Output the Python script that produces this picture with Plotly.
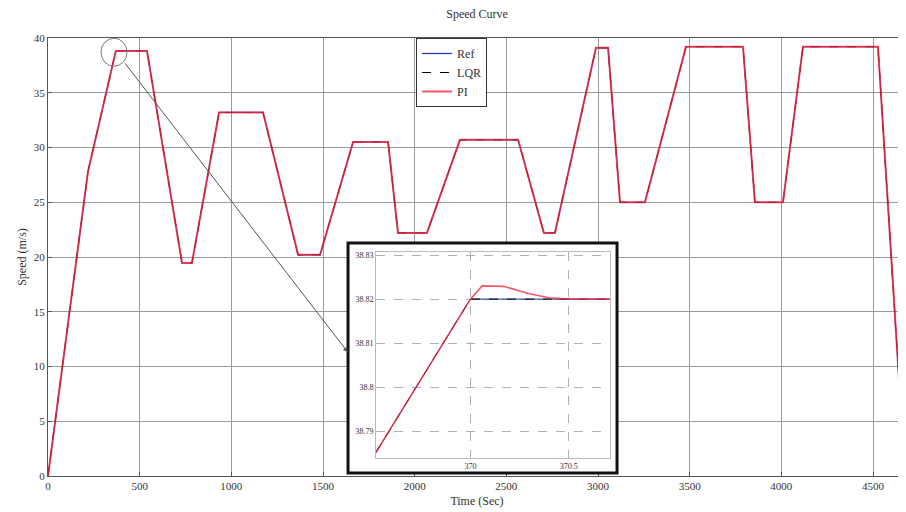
import plotly.graph_objects as go

# ---- data ----
ref_t = [0, 218, 370, 540, 731, 785, 933, 1173, 1364, 1484, 1664, 1855, 1909, 2067,
         2247, 2564, 2705, 2765, 2989, 3055, 3120, 3256, 3480, 3791, 3856, 4009,
         4118, 4527, 4675]
ref_v = [0, 27.8, 38.82, 38.82, 19.45, 19.45, 33.2, 33.2, 20.2, 20.2, 30.5, 30.5, 22.2, 22.2,
         30.7, 30.7, 22.2, 22.2, 39.1, 39.1, 25.0, 25.0, 39.2, 39.2, 25.0, 25.0,
         39.2, 39.2, 0]
lqr_t = ref_t
lqr_v = ref_v
pi_t = [0, 218, 370, 370.06, 370.17, 370.30, 370.40, 370.5, 540, 731, 785, 933, 1173, 1364,
        1484, 1664, 1855, 1909, 2067, 2247, 2564, 2705, 2765, 2989, 3055, 3120, 3256,
        3480, 3791, 3856, 4009, 4118, 4527, 4675]
pi_v = [0, 27.8, 38.82, 38.8230, 38.8229, 38.8212, 38.8203, 38.82, 38.82, 19.45, 19.45, 33.2,
        33.2, 20.2, 20.2, 30.5, 30.5, 22.2, 22.2, 30.7, 30.7, 22.2, 22.2, 39.1, 39.1, 25.0,
        25.0, 39.2, 39.2, 25.0, 25.0, 39.2, 39.2, 0]

x_ticks = [0, 500, 1000, 1500, 2000, 2500, 3000, 3500, 4000, 4500]
y_ticks = [0, 5, 10, 15, 20, 25, 30, 35, 40]
inset_x_ticks = [370, 370.5]
inset_x_labels = ["370", "370.5"]
inset_y_ticks = [38.79, 38.8, 38.81, 38.82, 38.83]
inset_y_labels = ["38.79", "38.8", "38.81", "38.82", "38.83"]

X_RANGE = [0, 4680]
Y_RANGE = [0, 40]
IX_RANGE = [369.52, 370.71]
IY_RANGE = [38.7839, 38.8307]

FONT = "Liberation Serif"
REF_C = "#1f2fb0"
LQR_C = "#000000"
PI_C = "rgba(245,40,60,0.78)"

fig = go.Figure()

# main traces
fig.add_trace(go.Scatter(x=ref_t, y=ref_v, mode="lines", name="Ref",
                         line=dict(color=REF_C, width=1.2)))
fig.add_trace(go.Scatter(x=lqr_t, y=lqr_v, mode="lines", name="LQR",
                         line=dict(color=LQR_C, width=1, dash="dash")))
fig.add_trace(go.Scatter(x=pi_t, y=pi_v, mode="lines", name="PI",
                         line=dict(color=PI_C, width=2)))

# inset traces
fig.add_trace(go.Scatter(x=ref_t, y=ref_v, mode="lines", showlegend=False,
                         line=dict(color=REF_C, width=1), xaxis="x2", yaxis="y2"))
fig.add_trace(go.Scatter(x=lqr_t, y=lqr_v, mode="lines", showlegend=False,
                         line=dict(color=LQR_C, width=1, dash="dash"), xaxis="x2", yaxis="y2"))
fig.add_trace(go.Scatter(x=pi_t, y=pi_v, mode="lines", showlegend=False,
                         line=dict(color=PI_C, width=1.6), xaxis="x2", yaxis="y2"))

# inset geometry (paper fractions)
box_x = [0.3497, 0.6632]
box_y = [0.0068, 0.532]
in_x = [0.3823, 0.655]
in_y = [0.0411, 0.5114]


def px2x(p):
    return X_RANGE[0] + p * (X_RANGE[1] - X_RANGE[0])


def py2y(p):
    return Y_RANGE[0] + p * (Y_RANGE[1] - Y_RANGE[0])


shapes = [
    # white backing that hides main gridlines behind the inset
    dict(type="rect", xref="x", yref="y", layer="between",
         x0=px2x(box_x[0]), x1=px2x(box_x[1]), y0=py2y(box_y[0]), y1=py2y(box_y[1]),
         fillcolor="white", line=dict(width=0)),
    # thick black frame of the inset
    dict(type="rect", xref="paper", yref="paper", layer="above",
         x0=box_x[0], x1=box_x[1], y0=box_y[0], y1=box_y[1],
         fillcolor="rgba(0,0,0,0)", line=dict(color="#111111", width=3)),
    # zoom circle
    dict(type="circle", xref="x", yref="y", xsizemode="pixel", ysizemode="pixel",
         xanchor=360, yanchor=38.7, x0=-13, x1=13, y0=-14, y1=14,
         line=dict(color="#777777", width=1), layer="above"),
]

fig.update_layout(
    width=906, height=512,
    margin=dict(l=40, r=8, t=30, b=44, autoexpand=False),
    paper_bgcolor="white", plot_bgcolor="white",
    title=dict(text="Speed Curve", x=0.5177, xanchor="center", y=1.0, yanchor="top",
               pad=dict(t=2),
               font=dict(family=FONT, size=12, color="#333333")),
    font=dict(family=FONT, size=11, color="#333333"),
    showlegend=True,
    legend=dict(x=0.429, y=1.0, xanchor="left", yanchor="top",
                bgcolor="white", bordercolor="#333333", borderwidth=1,
                font=dict(family=FONT, size=12, color="#333333"),
                tracegroupgap=0),
    xaxis=dict(range=X_RANGE, tickvals=x_ticks, showgrid=True, gridcolor="#9a9a9a",
               gridwidth=1, zeroline=False, showline=True, linecolor="#555555",
               mirror=True, ticks="inside", ticklen=4, tickcolor="#555555",
               automargin=False,
               title=dict(text="Time (Sec)", standoff=5,
                          font=dict(family=FONT, size=12, color="#333333")),
               tickfont=dict(family=FONT, size=11, color="#333333")),
    yaxis=dict(range=Y_RANGE, tickvals=y_ticks, showgrid=True, gridcolor="#9a9a9a",
               gridwidth=1, zeroline=False, showline=True, linecolor="#555555",
               mirror=True, ticks="inside", ticklen=4, tickcolor="#555555",
               automargin=False,
               title=dict(text="Speed (m/s)", standoff=4,
                          font=dict(family=FONT, size=12, color="#333333")),
               tickfont=dict(family=FONT, size=11, color="#333333")),
    xaxis2=dict(domain=in_x, anchor="y2", range=IX_RANGE, tickvals=inset_x_ticks,
                ticktext=inset_x_labels, showgrid=True, gridcolor="#b0b0b0",
                griddash="dash", zeroline=False, showline=True, linecolor="#bbbbbb",
                mirror=True, ticks="", automargin=False,
                tickfont=dict(family=FONT, size=8, color="#333333")),
    yaxis2=dict(domain=in_y, anchor="x2", range=IY_RANGE, tickvals=inset_y_ticks,
                ticktext=inset_y_labels, showgrid=True, gridcolor="#b0b0b0",
                griddash="dash", zeroline=False, showline=True, linecolor="#bbbbbb",
                mirror=True, ticks="", automargin=False,
                tickfont=dict(family=FONT, size=8, color="#333333")),
    shapes=shapes,
    annotations=[dict(x=1636, y=11.3, ax=415, ay=37.8, xref="x", yref="y",
                      axref="x", ayref="y", showarrow=True, arrowhead=2,
                      arrowsize=1, arrowwidth=1, arrowcolor="#555555", text="")],
)

fig.write_html("out.html")
